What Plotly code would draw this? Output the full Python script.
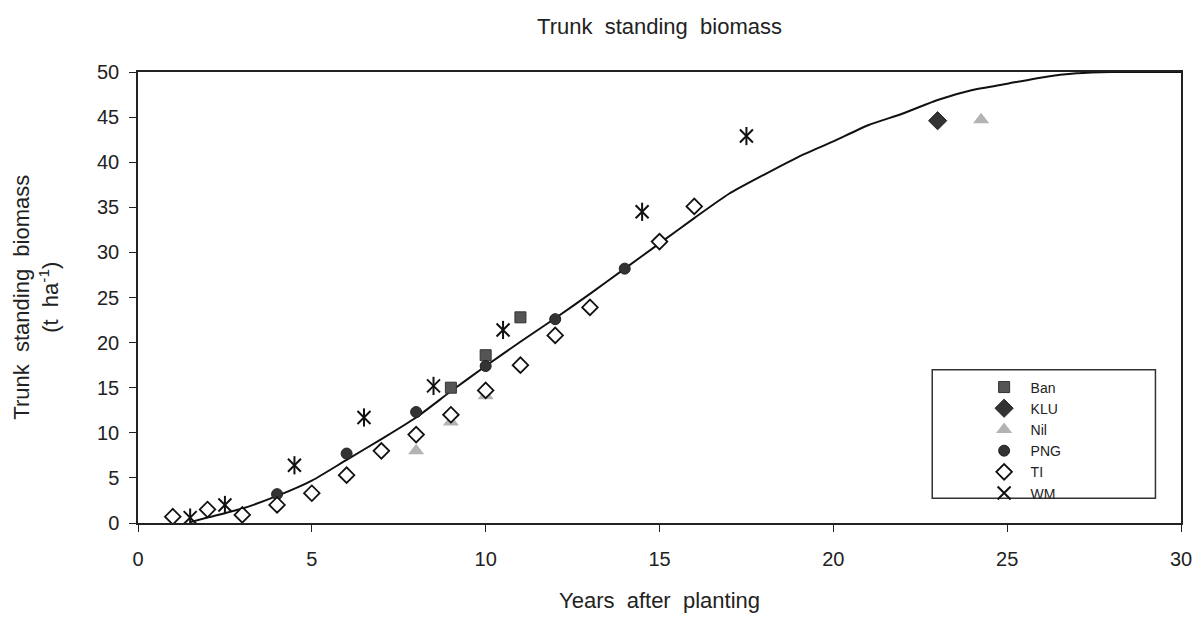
import plotly.graph_objects as go

# Fitted growth curve of trunk standing biomass (t/ha) against stand age
curve_years = [1.5, 2, 3, 4, 5, 6, 7, 8, 9, 10, 11, 12, 13, 14, 15, 16, 17, 18,
               19, 20, 21, 22, 23, 24, 25, 26, 27, 28, 29, 30]
curve_biomass = [0.1, 0.6, 1.6, 3.0, 4.7, 7.0, 9.3, 11.7, 14.6, 17.4, 20.1, 22.7,
                 25.4, 28.2, 31.0, 33.8, 36.5, 38.6, 40.6, 42.3, 44.1, 45.4,
                 46.9, 48.0, 48.7, 49.4, 49.85, 50.0, 50.0, 50.0]

# Observed sites
ban_years = [9, 10, 11]
ban_biomass = [15.0, 18.6, 22.8]

klu_years = [23]
klu_biomass = [44.6]

nil_years = [8, 9, 10, 24.25]
nil_biomass = [8.0, 11.2, 14.1, 44.7]

png_years = [4, 6, 8, 10, 12, 14]
png_biomass = [3.2, 7.7, 12.3, 17.4, 22.6, 28.2]

ti_years = [1, 2, 3, 4, 5, 6, 7, 8, 9, 10, 11, 12, 13, 15, 16]
ti_biomass = [0.7, 1.5, 0.9, 2.0, 3.3, 5.3, 8.0, 9.8, 12.0, 14.7, 17.5, 20.8,
              23.9, 31.2, 35.1]

wm_years = [1.5, 2.5, 4.5, 6.5, 8.5, 10.5, 14.5, 17.5]
wm_biomass = [0.6, 2.0, 6.4, 11.7, 15.2, 21.4, 34.5, 42.9]

x_ticks = [0, 5, 10, 15, 20, 25, 30]
y_ticks = [0, 5, 10, 15, 20, 25, 30, 35, 40, 45, 50]

FONT = "Liberation Sans, Arial, sans-serif"
INK = "#222222"

fig = go.Figure()

fig.add_trace(go.Scatter(
    x=curve_years, y=curve_biomass, mode="lines",
    line=dict(color="#111111", width=2, shape="spline", smoothing=0.6),
    showlegend=False, hoverinfo="skip",
))

fig.add_trace(go.Scatter(
    x=ban_years, y=ban_biomass, mode="markers", name="Ban",
    marker=dict(symbol="square", size=11, color="#555555",
                line=dict(color="#333333", width=1)),
))
fig.add_trace(go.Scatter(
    x=klu_years, y=klu_biomass, mode="markers", name="KLU",
    marker=dict(symbol="diamond", size=14, color="#333333",
                line=dict(color="#222222", width=1)),
))
fig.add_trace(go.Scatter(
    x=nil_years, y=nil_biomass, mode="markers", name="Nil",
    marker=dict(symbol="triangle-up", size=14, color="#b3b3b3",
                line=dict(width=0)),
))
fig.add_trace(go.Scatter(
    x=png_years, y=png_biomass, mode="markers", name="PNG",
    marker=dict(symbol="circle", size=11, color="#333333",
                line=dict(color="#222222", width=1)),
))
fig.add_trace(go.Scatter(
    x=ti_years, y=ti_biomass, mode="markers", name="TI",
    marker=dict(symbol="diamond", size=12, color="white",
                line=dict(color="#111111", width=1.8)),
))
fig.add_trace(go.Scatter(
    x=wm_years, y=wm_biomass, mode="markers", name="WM",
    marker=dict(symbol="x-thin-open", size=13, color="#111111",
                line=dict(color="#111111", width=2)),
))
# vertical stroke completing the six-armed WM star
fig.add_trace(go.Scatter(
    x=wm_years, y=wm_biomass, mode="markers", name="WM",
    marker=dict(symbol="line-ns-open", size=13, color="#111111",
                line=dict(color="#111111", width=2)),
    showlegend=False, hoverinfo="skip",
))

# legend frame
fig.add_shape(type="rect", xref="paper", yref="paper",
              x0=0.7615, x1=0.9755, y0=0.055, y1=0.340,
              line=dict(color="#333333", width=1.5), fillcolor="rgba(0,0,0,0)")

fig.update_layout(
    width=1204, height=621,
    margin=dict(l=138, r=15, t=72, b=94),
    paper_bgcolor="white", plot_bgcolor="white",
    font=dict(family=FONT, size=20, color=INK),
    title=dict(text="Trunk  standing  biomass", xref="paper", x=0.5,
               xanchor="center", y=0.957, yanchor="middle",
               font=dict(size=22, color=INK)),
    showlegend=True,
    legend=dict(x=0.805, xanchor="left", y=0.336, yanchor="top",
                bgcolor="rgba(0,0,0,0)", borderwidth=0, itemwidth=43,
                font=dict(size=14, color=INK), tracegroupgap=0),
    annotations=[
        dict(text="Trunk  standing  biomass", xref="paper", yref="paper",
             x=-0.112, y=0.5, xanchor="center", yanchor="middle",
             textangle=-90, showarrow=False, font=dict(size=22, color=INK)),
        dict(text="(t  ha<sup>-1</sup>)", xref="paper", yref="paper",
             x=-0.086, y=0.5, xanchor="center", yanchor="middle",
             textangle=-90, showarrow=False, font=dict(size=22, color=INK)),
    ],
)

fig.update_xaxes(
    range=[0, 30], tickvals=x_ticks, ticktext=[str(v) for v in x_ticks],
    showgrid=False, zeroline=False,
    showline=True, linecolor="#222222", linewidth=1.5, mirror=True,
    ticks="outside", ticklen=7, tickwidth=1.3, tickcolor="#222222",
    ticklabelstandoff=10,
    title=dict(text="Years  after  planting", standoff=24,
               font=dict(size=22, color=INK)),
)
fig.update_yaxes(
    range=[0, 50], tickvals=y_ticks, ticktext=[str(v) for v in y_ticks],
    showgrid=False, zeroline=False,
    showline=True, linecolor="#222222", linewidth=1.5, mirror=True,
    ticks="outside", ticklen=7, tickwidth=1.3, tickcolor="#222222",
    ticklabelstandoff=6,
)

fig.write_html("out.html")
